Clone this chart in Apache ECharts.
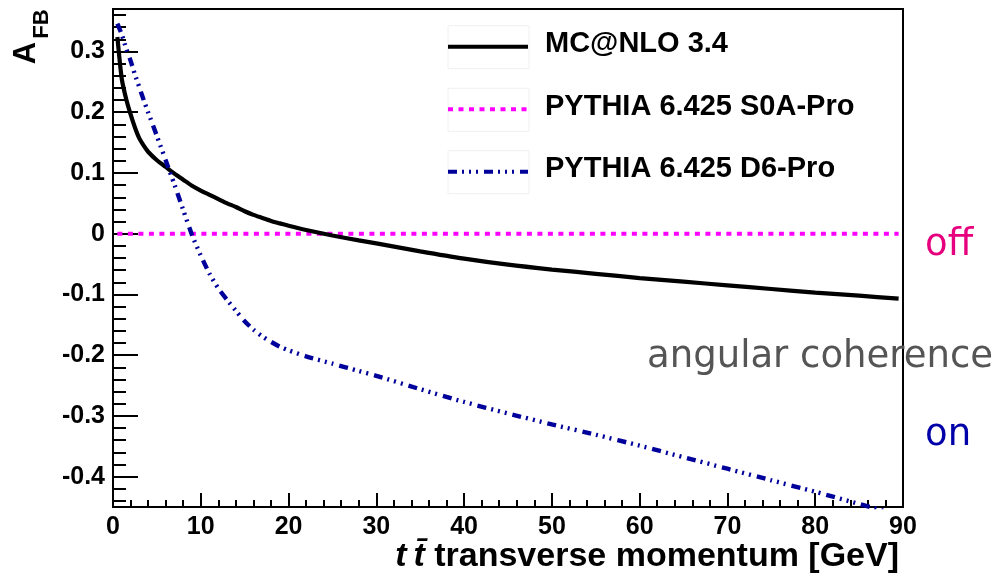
<!DOCTYPE html>
<html>
<head>
<meta charset="utf-8">
<style>
  html, body { margin: 0; padding: 0; background: #fff; }
  #chart { width: 994px; height: 581px; }
</style>
<script src="https://cdn.jsdelivr.net/npm/echarts@6/dist/echarts.min.js"></script>
</head>
<body>
<div id="chart"></div>
<script>
// pT(tt) bin positions [GeV]
var ptValues = [0.5, 1, 1.5, 2, 2.5, 3, 3.5, 4, 5, 6, 7, 8, 9, 10, 11, 12, 13, 14, 15, 16, 17, 18, 19, 20,
                22, 25, 28, 30, 35, 40, 45, 50, 55, 60, 65, 70, 75, 80, 85, 89.5];

// A_FB for each generator
var mcnloAfb = [0.324, 0.255, 0.222, 0.197, 0.175, 0.157, 0.145, 0.135, 0.121, 0.110, 0.099, 0.089,
                0.079, 0.071, 0.064, 0.057, 0.050, 0.044, 0.037, 0.031, 0.026, 0.021, 0.017, 0.013,
                0.006, -0.003, -0.011, -0.016, -0.029, -0.041, -0.051, -0.059, -0.066, -0.073,
                -0.079, -0.085, -0.091, -0.097, -0.102, -0.107];
var s0aAfb   = [0, 0, 0, 0, 0, 0, 0, 0, 0, 0, 0, 0, 0, 0, 0, 0, 0, 0, 0, 0, 0, 0, 0, 0,
                0, 0, 0, 0, 0, 0, 0, 0, 0, 0, 0, 0, 0, 0, 0, 0];
var d6Afb    = [0.346, 0.328, 0.305, 0.285, 0.262, 0.241, 0.220, 0.200, 0.161, 0.121, 0.081, 0.039,
                -0.002, -0.036, -0.066, -0.090, -0.109, -0.127, -0.144, -0.158, -0.169, -0.178, -0.186, -0.192,
                -0.202, -0.214, -0.226, -0.234, -0.256, -0.277, -0.296, -0.314, -0.331, -0.349,
                -0.368, -0.387, -0.406, -0.425, -0.445, -0.463];

var seriesNames = ['MC@NLO 3.4', 'PYTHIA 6.425 S0A-Pro', 'PYTHIA 6.425 D6-Pro'];
var seriesColors = ['#000000', '#ff00ff', '#00009a'];
var seriesDash = ['solid', [5, 5.5], [9, 5, 2, 5, 2, 5, 2, 6]];

// axis ticks
var xTicks = [0, 10, 20, 30, 40, 50, 60, 70, 80, 90];
var yMajorTicks = [-0.4, -0.3, -0.2, -0.1, 0, 0.1, 0.2, 0.3];
var yRange = [-0.45, 0.37];

var yMinorTicks = [];
for (var k = -22; k <= 18; k++) {
  if (k % 5 !== 0) yMinorTicks.push(k * 0.02);
}

function pairs(xs, ys) {
  return xs.map(function (x, i) { return [x, ys[i]]; });
}

var FONT = '"Liberation Sans", Arial, sans-serif';
var SANS = '"DejaVu Sans", sans-serif';
var chart = echarts.init(document.getElementById('chart'));

// legend drawn as a boxed key: sample line + label per series
var legendRows = [46.7, 109.3, 171.7];
var legendGraphics = [];
seriesNames.forEach(function (name, i) {
  var yc = legendRows[i];
  legendGraphics.push({
    type: 'rect', shape: { x: 448, y: yc - 21, width: 81, height: 43 },
    style: { fill: 'none', stroke: '#f0f0f0', lineWidth: 1 }, silent: true
  });
  legendGraphics.push({
    type: 'line', shape: { x1: 448, y1: yc, x2: 528, y2: yc },
    style: { stroke: seriesColors[i], lineWidth: 4,
             lineDash: seriesDash[i] === 'solid' ? null : seriesDash[i] }
  });
  legendGraphics.push({
    type: 'text', x: 545, y: yc - 2.5,
    style: { text: name, font: 'bold 29px ' + FONT, fill: '#000', align: 'left', verticalAlign: 'middle' }
  });
});

chart.setOption({
  animation: false,
  backgroundColor: '#fff',
  grid: {
    left: 113, right: 91, top: 9, bottom: 74,
    show: true, borderColor: '#000', borderWidth: 2, backgroundColor: 'transparent'
  },
  xAxis: {
    type: 'value', min: 0, max: 90, interval: 10,
    axisLine: { onZero: false, lineStyle: { color: '#000', width: 2 } },
    axisTick: { inside: true, length: 14, lineStyle: { color: '#000', width: 2 } },
    minorTick: { show: true, splitNumber: 5, length: 7, lineStyle: { color: '#000', width: 2 } },
    splitLine: { show: false },
    axisLabel: {
      margin: 8, color: '#000', fontFamily: FONT, fontWeight: 'bold', fontSize: 25,
      customValues: xTicks
    }
  },
  yAxis: [{
    type: 'value', min: yRange[0], max: yRange[1],
    axisLine: { show: true, onZero: false, lineStyle: { color: '#000', width: 2 } },
    axisTick: { inside: true, length: 25, customValues: yMajorTicks, lineStyle: { color: '#000', width: 2 } },
    splitLine: { show: false },
    axisLabel: {
      margin: 8, color: '#000', fontFamily: FONT, fontWeight: 'bold', fontSize: 25,
      customValues: yMajorTicks,
      formatter: function (v) { return String(+v.toFixed(2)); }
    }
  }, {
    type: 'value', min: yRange[0], max: yRange[1], position: 'left',
    axisLine: { show: false, onZero: false },
    axisTick: { show: true, inside: true, length: 13, customValues: yMinorTicks, lineStyle: { color: '#000', width: 2 } },
    splitLine: { show: false },
    axisLabel: { show: false }
  }],
  series: [{
    name: seriesNames[0], type: 'line', symbol: 'none', smooth: 0.25,
    data: pairs(ptValues, mcnloAfb),
    lineStyle: { color: seriesColors[0], width: 4.2 }, z: 3
  }, {
    name: seriesNames[1], type: 'line', symbol: 'none',
    data: pairs(ptValues, s0aAfb),
    lineStyle: { color: seriesColors[1], width: 4, type: seriesDash[1], cap: 'butt' }, z: 2
  }, {
    name: seriesNames[2], type: 'line', symbol: 'none', smooth: 0.25,
    data: pairs(ptValues, d6Afb),
    lineStyle: { color: seriesColors[2], width: 4.4, type: seriesDash[2], cap: 'butt' }, z: 4
  }],
  graphic: legendGraphics.concat([
    // y-axis title: A_FB
    { type: 'text', x: 26, y: 53, rotation: Math.PI / 2,
      style: { text: 'A', font: 'bold 31px ' + FONT, fill: '#000', align: 'center', verticalAlign: 'middle' } },
    { type: 'text', x: 42, y: 24, rotation: Math.PI / 2,
      style: { text: 'FB', font: 'bold 22px ' + FONT, fill: '#000', align: 'center', verticalAlign: 'middle' } },
    // x-axis title
    { type: 'text', x: 899, y: 557,
      style: {
        text: '{i|t\u2009t\u0304}{n| transverse momentum [GeV]}',
        align: 'right', verticalAlign: 'middle',
        rich: {
          i: { font: 'italic bold 34px ' + FONT, fill: '#000' },
          n: { font: 'bold 34px ' + FONT, fill: '#000' }
        }
      } },
    // angular coherence annotation
    { type: 'text', x: 925, y: 245,
      style: { text: 'off', font: '37px ' + SANS, fill: '#e6007e', align: 'left', verticalAlign: 'middle' } },
    { type: 'text', x: 993, y: 357,
      style: { text: 'angular coherence', font: '37px ' + SANS, fill: '#555555', align: 'right', verticalAlign: 'middle' } },
    { type: 'text', x: 925, y: 435,
      style: { text: 'on', font: '37px ' + SANS, fill: '#0000a8', align: 'left', verticalAlign: 'middle' } }
  ])
});
</script>
</body>
</html>
